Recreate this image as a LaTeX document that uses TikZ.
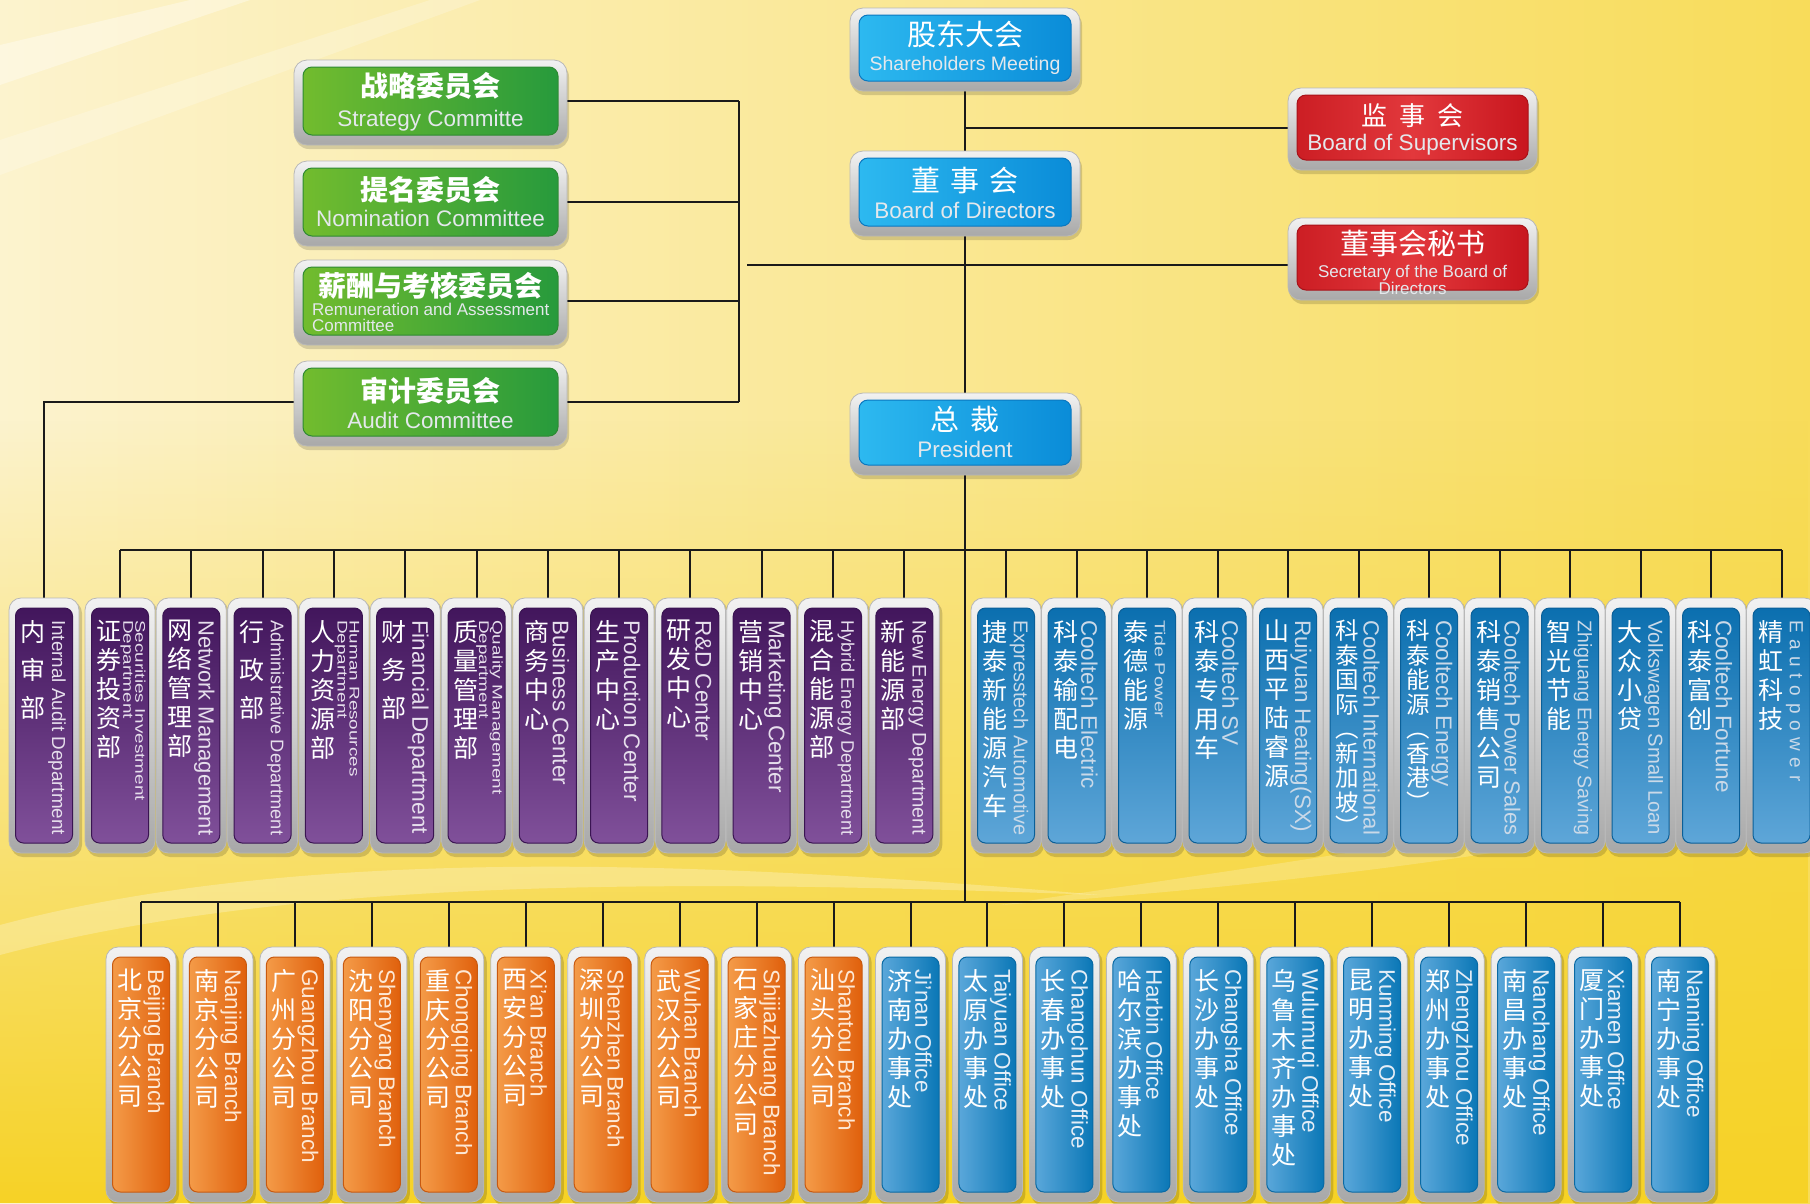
\documentclass[tikz,border=0pt]{standalone}
\usepackage{fontspec}
\setmainfont{Liberation Sans}
\newfontfamily\en{Liberation Sans}
\newfontfamily\enw[FakeStretch=1.35]{Liberation Sans}
\newfontfamily\cjk{Noto Sans CJK SC}
\usetikzlibrary{fadings}
\pgfdeclarelayer{bg}
\pgfdeclarelayer{lines}
\pgfsetlayers{bg,lines,main}

\definecolor{bgL}{HTML}{FCF3CE}
\definecolor{bgR}{HTML}{F8DC5A}
\definecolor{bgY}{HTML}{F6D226}
\definecolor{frT}{HTML}{F2F2F2}
\definecolor{frB}{HTML}{A8A8A8}
\definecolor{frD}{HTML}{B8B8B8}
\definecolor{grL}{HTML}{72BC2E}
\definecolor{grR}{HTML}{279A3C}
\definecolor{grD}{HTML}{2E8A32}
\definecolor{blL}{HTML}{2DB9F0}
\definecolor{blR}{HTML}{0A8CD8}
\definecolor{blD}{HTML}{0A78C0}
\definecolor{rdL}{HTML}{CC1E24}
\definecolor{rdM}{HTML}{E2383C}
\definecolor{rdR}{HTML}{C8161E}
\definecolor{rdD}{HTML}{A81218}
\definecolor{puT}{HTML}{42165C}
\definecolor{puB}{HTML}{80509A}
\definecolor{puD}{HTML}{3A1452}
\definecolor{bmT}{HTML}{0B6FAF}
\definecolor{bmB}{HTML}{5EA6D8}
\definecolor{bmD}{HTML}{0A5F98}
\definecolor{orL}{HTML}{F49B48}
\definecolor{orR}{HTML}{E0600C}
\definecolor{orD}{HTML}{C85A10}
\definecolor{bbL}{HTML}{5AA7DA}
\definecolor{bbR}{HTML}{0A77B6}
\definecolor{bbD}{HTML}{0A6AA4}
\definecolor{ptx}{HTML}{E6DEEC}
\definecolor{btx}{HTML}{CAD9E8}
\definecolor{otx}{HTML}{FDE8D5}
\definecolor{ltx}{HTML}{E4EDF6}
\definecolor{txL}{HTML}{E4E8EC}
\definecolor{ln}{HTML}{1A1A1A}

\newsavebox\fitbox
\newcommand\fit[1]{\sbox\fitbox{\fontsize{22.5}{22.5}\selectfont #1}%
  \ifdim\wd\fitbox>215pt
    \pgfmathsetmacro\fitsz{22.5*215/\the\wd\fitbox}%
    \fontsize{\fitsz}{\fitsz}\selectfont #1%
  \else\usebox\fitbox\fi}

\tikzset{
  conn/.style={draw=ln, line width=2},
  vframe/.style={top color=frT, bottom color=frB, draw=frD, line width=0.8, rounded corners=12},
  tframe/.style={top color=frT, bottom color=frB, draw=frD, line width=0.8, rounded corners=13},
  inbox/.style={rounded corners=8, inner sep=0, outer sep=0, line width=1},
  purp/.style={inbox, top color=puT, bottom color=puB, draw=puD, minimum width=57, minimum height=235},
  blum/.style={inbox, top color=bmT, bottom color=bmB, draw=bmD, minimum width=57, minimum height=235},
  orb/.style={inbox, left color=orL, right color=orR, draw=orD, minimum width=57, minimum height=235},
  blb/.style={inbox, left color=bbL, right color=bbR, draw=bbD, minimum width=57, minimum height=235},
  gbox/.style={inbox, rounded corners=9, left color=grL, right color=grR, draw=grD},
  bbox/.style={inbox, rounded corners=9, left color=blL, right color=blR, draw=blD},
  rbox/.style={inbox, rounded corners=9, left color=rdL, right color=rdR, middle color=rdM, draw=rdD},
  cnv/.style={anchor=north, align=center, inner sep=0, text=white, font=\cjk\fontsize{25}{29}\selectfont},
  env/.style={anchor=west, rotate=-90, inner sep=0, align=left, font=\en},
  cnSpread/.style={font=\cjk\fontsize{25}{38}\selectfont},
  cnTight/.style={font=\cjk\fontsize{23.5}{24.5}\selectfont},
  enTwo/.style={font=\enw\fontsize{14}{12}\selectfont},
  enSmall/.style={font=\enw\fontsize{14.5}{14.5}\selectfont},
  enSpaced/.style={font=\en\fontsize{19}{19}\selectfont\addfontfeature{LetterSpace=35}},
  pt/.style={text=ptx}, bt/.style={text=btx}, ot/.style={text=otx}, lt/.style={text=ltx},
  cnt/.style={text=white, anchor=base, inner sep=0, font=\cjk\fontsize{29}{29}\selectfont},
  cng/.style={text=white, anchor=base, inner sep=0, font=\cjk\bfseries\fontsize{28}{28}\selectfont},
  ent/.style={text=txL, anchor=base, inner sep=0, font=\en\fontsize{22.5}{22.5}\selectfont},
}

% vertical box: name, cx, inner top, fill style, CN options, CN text, EN options, EN text
\newcommand\vb[8]{%
  \fill[black, opacity=.16, rounded corners=12] (#2-33,#3-7) rectangle (#2+38,#3+249);
  \shade[vframe] (#2-35,#3-10) rectangle (#2+35,#3+245);
  \node[#4] (#1) at (#2,#3+117.5) {};
  \node[cnv,#5] (#1c) at (#2-11,#3+12) {#6};
  \node[env,#7] (#1e) at (#2+13,#3+12) {#8};
}
% top box: name, cx, cy, w, h, style
\newcommand\tb[6]{%
  \fill[black, opacity=.15, rounded corners=14] (#2-#4/2-8,#3-#5/2-4) rectangle (#2+#4/2+11,#3+#5/2+14);
  \shade[tframe] (#2-#4/2-9,#3-#5/2-7) rectangle (#2+#4/2+9,#3+#5/2+10);
  \node[#6, minimum width=#4, minimum height=#5] (#1) at (#2,#3) {};
}

\begin{document}
\begin{tikzpicture}[x=1pt,y=-1pt]
\useasboundingbox (0,0) rectangle (1810,1203);
\begin{pgfonlayer}{bg}
  \shade[left color=bgL, right color=bgR] (0,0) rectangle (1810,1203);
  \fill[bgY, path fading=north] (0,420) rectangle (1810,1203);
  \fill[white, opacity=.35] (0,45) -- (190,0) -- (250,0) -- (0,85) -- cycle;
  \fill[white, opacity=.22] (0,140) -- (430,0) -- (480,0) -- (0,175) -- cycle;
  \fill[white, opacity=.25] (0,925) .. controls (300,845) and (700,860) .. (1100,895) .. controls (700,880) and (300,875) .. (0,955) -- cycle;
  \fill[white, opacity=.2] (1000,905) .. controls (1300,860) and (1600,820) .. (1810,760) -- (1810,790) .. controls (1600,845) and (1300,885) .. (1000,905) -- cycle;
\end{pgfonlayer}

% ---------- top boxes ----------
\tb{sh}{965}{48}{212}{66}{bbox}
\tb{bod}{965}{192}{212}{68}{bbox}
\tb{pres}{965}{432.5}{212}{65}{bbox}
\tb{sup}{1412.5}{127.5}{231}{65}{rbox}
\tb{scy}{1412.5}{257.5}{231}{65}{rbox}
\tb{c1}{430.5}{101}{255}{68}{gbox}
\tb{c2}{430.5}{202}{255}{68}{gbox}
\tb{c3}{430.5}{301}{255}{68}{gbox}
\tb{c4}{430.5}{402}{255}{68}{gbox}

\node[cnt] (shc) at (965,45) {股东大会};
\node[ent, font=\en\fontsize{19.5}{19.5}\selectfont] (she) at (965,70) {Shareholders Meeting};
\node[cnt] (bodc) at (965,191) {董\hspace{.35em}事\hspace{.35em}会};
\node[ent] (bode) at (965,218) {Board of Directors};
\node[cnt] (presc) at (965,430) {总\hspace{.4em}裁};
\node[ent] (prese) at (965,457) {President};
\node[cnt, font=\cjk\fontsize{26}{26}\selectfont] (supc) at (1412.5,125) {监\hspace{.45em}事\hspace{.45em}会};
\node[ent] (supe) at (1412.5,150) {Board of Supervisors};
\node[cnt] (scyc) at (1412.5,254) {董事会秘书};
\node[ent, font=\en\fontsize{17}{17}\selectfont] (scye1) at (1412.5,277) {Secretary of the Board of};
\node[ent, font=\en\fontsize{17}{17}\selectfont] (scye2) at (1412.5,294) {Directors};
\node[cng] (c1c) at (430.5,96) {战略委员会};
\node[ent] (c1e) at (430.5,126) {Strategy Committe};
\node[cng] (c2c) at (430.5,200) {提名委员会};
\node[ent] (c2e) at (430.5,226) {Nomination Committee};
\node[cng] (c3c) at (430.5,296) {薪酬与考核委员会};
\node[ent, anchor=base west, font=\en\fontsize{17}{17}\selectfont] (c3e1) at (312,315) {Remuneration and Assessment};
\node[ent, anchor=base west, font=\en\fontsize{17}{17}\selectfont] (c3e2) at (312,331) {Committee};
\node[cng] (c4c) at (430.5,401) {审计委员会};
\node[ent] (c4e) at (430.5,428) {Audit Committee};

% ---------- middle row ----------
\vb{ia}{44}{608}{purp}{cnSpread}{内\\审\\部}{pt}{\fit{Internal Audit Department}}
\vb{sec}{120}{608}{purp}{}{证\\券\\投\\资\\部}{pt,enTwo}{Securities Investment\\Department}
\vb{net}{191.3}{608}{purp}{}{网\\络\\管\\理\\部}{pt}{\fit{Network Management}}
\vb{adm}{262.6}{608}{purp}{cnSpread}{行\\政\\部}{pt}{\fit{Administrative Department}}
\vb{hr}{333.9}{608}{purp}{}{人\\力\\资\\源\\部}{pt,enTwo}{Human Resources\\Department}
\vb{fin}{405.2}{608}{purp}{cnSpread}{财\\务\\部}{pt}{\fit{Financial Department}}
\vb{qm}{476.5}{608}{purp}{}{质\\量\\管\\理\\部}{pt,enTwo}{Quality Management\\Department}
\vb{bc}{547.8}{608}{purp}{}{商\\务\\中\\心}{pt}{\fit{Business Center}}
\vb{pc}{619.1}{608}{purp}{}{生\\产\\中\\心}{pt}{\fit{Production Center}}
\vb{rd}{690.4}{608}{purp}{}{研\\发\\中\\心}{pt}{\fit{R\&D Center}}
\vb{mc}{761.7}{608}{purp}{}{营\\销\\中\\心}{pt}{\fit{Marketing Center}}
\vb{hy}{833}{608}{purp}{}{混\\合\\能\\源\\部}{pt}{\fit{Hybrid Energy Department}}
\vb{ne}{904.3}{608}{purp}{}{新\\能\\源\\部}{pt}{\fit{New Energy Department}}

\vb{jt}{1006}{608}{blum}{}{捷\\泰\\新\\能\\源\\汽\\车}{bt}{\fit{Expresstech Automotive}}
\vb{ce}{1076.5}{608}{blum}{}{科\\泰\\输\\配\\电}{bt}{\fit{Cooltech Electric}}
\vb{td}{1147}{608}{blum}{}{泰\\德\\能\\源}{bt,enSmall}{Tide Power}
\vb{sv}{1217.5}{608}{blum}{}{科\\泰\\专\\用\\车}{bt}{\fit{Cooltech SV}}
\vb{ry}{1288}{608}{blum}{}{山\\西\\平\\陆\\睿\\源}{bt}{\fit{Ruiyuan Heating(SX)}}
\vb{ci}{1358.5}{608}{blum}{cnTight}{科\\泰\\国\\际\\︵\\新\\加\\坡\\︶}{bt}{\fit{Cooltech International}}
\vb{cen}{1429}{608}{blum}{cnTight}{科\\泰\\能\\源\\︵\\香\\港\\︶}{bt}{\fit{Cooltech Energy}}
\vb{cs}{1499.5}{608}{blum}{}{科\\泰\\销\\售\\公\\司}{bt}{\fit{Cooltech Power Sales}}
\vb{zg}{1570}{608}{blum}{}{智\\光\\节\\能}{bt}{\fit{Zhiguang Energy Saving}}
\vb{vw}{1640.5}{608}{blum}{}{大\\众\\小\\贷}{bt}{\fit{Volkswagen Small Loan}}
\vb{cf}{1711}{608}{blum}{}{科\\泰\\富\\创}{bt}{\fit{Cooltech Fortune}}
\vb{jh}{1781.5}{608}{blum}{}{精\\虹\\科\\技}{bt,enSpaced}{Eautopower}

% ---------- bottom row ----------
\vb{bj}{141}{957}{orb}{}{北\\京\\分\\公\\司}{ot}{\fit{Beijing Branch}}
\vb{nj}{217.95}{957}{orb}{}{南\\京\\分\\公\\司}{ot}{\fit{Nanjing Branch}}
\vb{gz}{294.9}{957}{orb}{}{广\\州\\分\\公\\司}{ot}{\fit{Guangzhou Branch}}
\vb{sy}{371.85}{957}{orb}{}{沈\\阳\\分\\公\\司}{ot}{\fit{Shenyang Branch}}
\vb{cq}{448.8}{957}{orb}{}{重\\庆\\分\\公\\司}{ot}{\fit{Chongqing Branch}}
\vb{xa}{525.75}{957}{orb}{}{西\\安\\分\\公\\司}{ot}{\fit{Xi’an Branch}}
\vb{sz}{602.7}{957}{orb}{}{深\\圳\\分\\公\\司}{ot}{\fit{Shenzhen Branch}}
\vb{wh}{679.65}{957}{orb}{}{武\\汉\\分\\公\\司}{ot}{\fit{Wuhan Branch}}
\vb{sjz}{756.6}{957}{orb}{}{石\\家\\庄\\分\\公\\司}{ot}{\fit{Shijiazhuang Branch}}
\vb{st}{833.55}{957}{orb}{}{汕\\头\\分\\公\\司}{ot}{\fit{Shantou Branch}}
\vb{jn}{910.5}{957}{blb}{}{济\\南\\办\\事\\处}{lt}{\fit{Ji’nan Office}}
\vb{ty}{987.45}{957}{blb}{}{太\\原\\办\\事\\处}{lt}{\fit{Taiyuan Office}}
\vb{cc}{1064.4}{957}{blb}{}{长\\春\\办\\事\\处}{lt}{\fit{Changchun Office}}
\vb{hb}{1141.35}{957}{blb}{}{哈\\尔\\滨\\办\\事\\处}{lt}{\fit{Harbin Office}}
\vb{cs2}{1218.3}{957}{blb}{}{长\\沙\\办\\事\\处}{lt}{\fit{Changsha Office}}
\vb{wl}{1295.25}{957}{blb}{}{乌\\鲁\\木\\齐\\办\\事\\处}{lt}{\fit{Wulumuqi Office}}
\vb{km}{1372.2}{957}{blb}{}{昆\\明\\办\\事\\处}{lt}{\fit{Kunming Office}}
\vb{zz}{1449.15}{957}{blb}{}{郑\\州\\办\\事\\处}{lt}{\fit{Zhengzhou Office}}
\vb{nc}{1526.1}{957}{blb}{}{南\\昌\\办\\事\\处}{lt}{\fit{Nanchang Office}}
\vb{xm}{1603.05}{957}{blb}{}{厦\\门\\办\\事\\处}{lt}{\fit{Xiamen Office}}
\vb{nn}{1680}{957}{blb}{}{南\\宁\\办\\事\\处}{lt}{\fit{Nanning Office}}

% ---------- connectors ----------
\coordinate (tbus) at (0,549.5);
\coordinate (bbus) at (0,901.5);
\coordinate (brk) at (739,0);
\coordinate (h2) at (747,265);
\begin{pgfonlayer}{lines}
  \draw[conn] (sh.south) -- (bod.north);
  \draw[conn] (bod.south) -- (pres.north);
  \draw[conn] (pres.south) -- (pres.south |- bbus);
  \draw[conn] (sup.west) -- (sup.west -| sh.south);
  \draw[conn] (h2) -- (h2 -| scy.west);
  \foreach \nm in {c1,c2,c3,c4} \draw[conn] (\nm.east) -- (\nm.east -| brk);
  \draw[conn] (c1.east -| brk) -- (c4.east -| brk);
  \draw[conn] (c4.west) -| (ia.north);
  \draw[conn] (sec.north |- tbus) -- (jh.north |- tbus);
  \foreach \nm in {sec,net,adm,hr,fin,qm,bc,pc,rd,mc,hy,ne,jt,ce,td,sv,ry,ci,cen,cs,zg,vw,cf,jh}
    \draw[conn] (\nm.north) -- (\nm.north |- tbus);
  \draw[conn] (bj.north |- bbus) -- (nn.north |- bbus);
  \foreach \nm in {bj,nj,gz,sy,cq,xa,sz,wh,sjz,st,jn,ty,cc,hb,cs2,wl,km,zz,nc,xm,nn}
    \draw[conn] (\nm.north) -- (\nm.north |- bbus);
\end{pgfonlayer}
\end{tikzpicture}
\end{document}
